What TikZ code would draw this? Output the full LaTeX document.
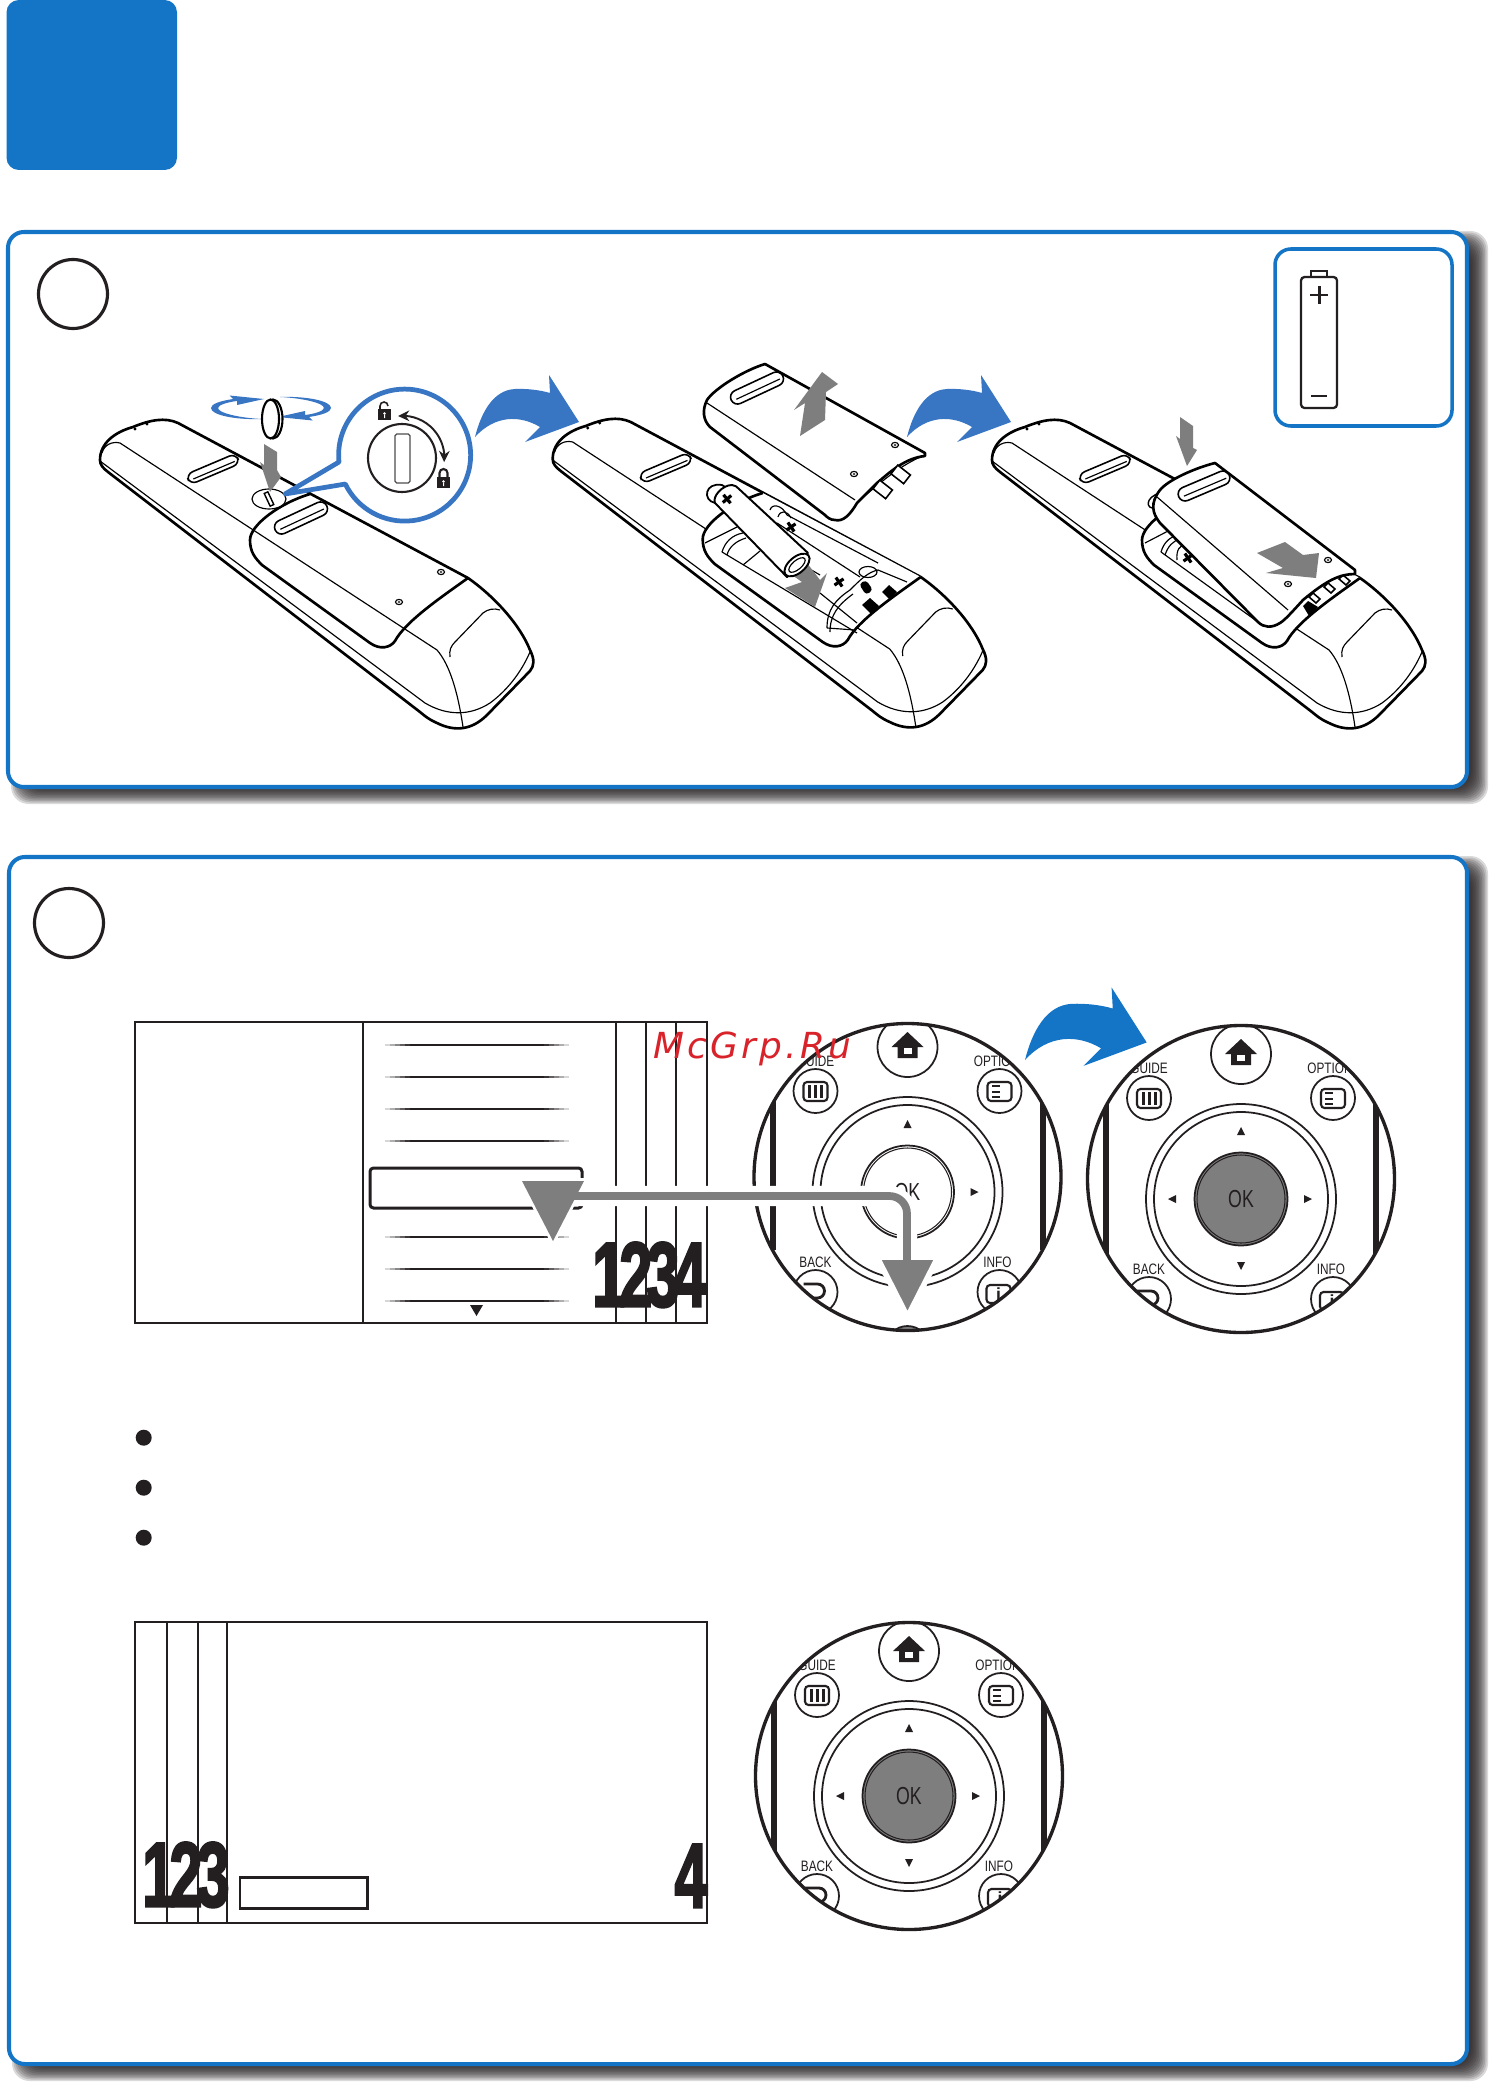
\documentclass[tikz,border=0pt]{standalone}
\usepackage{fontspec}
\usetikzlibrary{arrows.meta, bending}
\setmainfont{Liberation Sans}
\newfontfamily\digitfont[LetterSpace=-10, BoldFeatures={FakeBold=3}]{Liberation Sans}
\newfontfamily\markfont[LetterSpace=9]{DejaVu Sans}
\definecolor{panelblue}{HTML}{1475C6}
\definecolor{arrowblue}{HTML}{3876C4}
\definecolor{arrowgray}{HTML}{7F7E7E}
\definecolor{ink}{HTML}{231F20}
\definecolor{markred}{HTML}{D9232A}
\tikzset{
	outline/.style={draw=black, line width=0.75pt, line join=round},
	thinline/.style={draw=black, line width=0.33pt},
	keyline/.style={draw=ink, line width=0.5pt},
	panelline/.style={draw=panelblue, line width=1.15pt, rounded corners=4.5pt},
	screenline/.style={draw=ink, line width=0.7pt},
	keylabel/.style={text=ink, inner sep=0pt, xscale=0.78, font=\fontsize{4.3}{5}\selectfont},
	numlabel/.style={text=ink, inner sep=0pt, xscale=0.65, font=\digitfont\bfseries\fontsize{26}{26}\selectfont},
	navhead/.style={draw=white, fill=arrowgray, line width=1.6pt, line join=round},
}
\newcommand\panelframe[4]{
	\foreach \g in {9,7.5,...,-7.5}
		\fill[ink, opacity=0.16, rounded corners=5pt] ({#1+12-\g},{#2+8-\g}) rectangle ({#3+12+\g},{#4+8+\g});
	\draw[panelline, fill=white] (#1,#2) rectangle (#3,#4);
}
\newcommand\gripslot[5]{
	\begin{scope}[shift={(#1,#2)}, rotate=#3]
		\draw[line width=0.45pt, rounded corners=2pt] ({-#4/2},{-#5/2}) rectangle ({#4/2},{#5/2});
		\draw[thinline] ({-#4/2+5},{1.5}) -- ({#4/2-4},{1.5});
	\end{scope}
}
\newcommand\screwdot[2]{
	\draw[thinline] (#1,#2) ellipse [x radius=3.5, y radius=2.6];
	\fill[black] (#1,#2) ellipse [x radius=1.4, y radius=0.9];
}
\newcommand\battplus[3]{
	\begin{scope}[shift={(#1,#2)}, rotate=#3]
		\draw[line width=0.9pt] (-5.5,0) -- (5.5,0) (0,-5.5) -- (0,5.5);
	\end{scope}
}
\newcommand\coveredge[1]{
	\path[#1] (310,494) .. controls (280,503) and (250,525) .. (250,540) .. controls (250,552) and (255,558) .. (262,565) -- (370,643) .. controls (380,650) and (390,648) .. (395,641) .. controls (405,622) and (440,598) .. (468,578);
}
\newcommand\remotebase{
	\draw[outline, fill=white] (100,460) .. controls (100,443) and (115,432) .. (133,427) .. controls (150,420) and (165,417) .. (178,423) -- (468,578) .. controls (495,597) and (520,625) .. (530,650) .. controls (535,660) and (534,666) .. (530,671) -- (487,715) .. controls (472,730) and (455,732) .. (437,723) .. controls (428,719) and (425,716) .. (420,712) -- (108,472) .. controls (103,468) and (100,465) .. (100,460) -- cycle;
	\draw[thinline] (102,453) .. controls (104,445) and (112,441) .. (120,443) -- (437,650) .. controls (450,665) and (458,693) .. (463,727);
	\draw[thinline] (100,461) -- (425,703) .. controls (447,716) and (470,716) .. (490,703) .. controls (505,692) and (520,675) .. (530,652);
	\draw[thinline] (450,657) .. controls (449,650) and (451,646) .. (455,642) -- (483,613) .. controls (488,609) and (494,608) .. (500,610);
	\fill[black] (135,429) circle [radius=1.6] (147,424) circle [radius=1.6];
	\gripslot{213}{469}{23}{54}{11}
}
\newcommand\bigarrow[4]{
	\begin{scope}[shift={(#1,#2)}, scale=#3]
		\fill[#4] (0,0) .. controls (6,-24) and (18,-47) .. (40,-48) .. controls (52,-48.5) and (65,-47) .. (75,-44) -- (74,-62) -- (104,-15) -- (50,5) -- (65,-10) .. controls (45,-22) and (20,-22) .. (0,0) -- cycle;
	\end{scope}
}
\newcommand\keypad[5]{
	\begin{scope}[shift={(#1,#2)}]
		\begin{scope}
			\clip (0,0) circle [radius=153.5];
			\begin{scope}[shift={(0,#3)}]
				\draw[keyline] (0,-125) circle [radius=30];
				\fill[ink] (-16,-125) -- (0,-140) -- (16,-125) -- (10,-125) -- (10,-114) -- (-10,-114) -- (-10,-125) -- cycle;
				\fill[white] (-4,-124) rectangle (4,-118);
				\draw[ink, line width=1.7pt] (-135,-78) -- (-135,78) (135,-78) -- (135,78);
				\draw[keyline] (-92,-81) circle [radius=22] (92,-81) circle [radius=22];
				\draw[keyline] (-92,120) circle [radius=22] (92,120) circle [radius=22];
				\draw[keyline, line width=0.6pt, rounded corners=1pt] (-104,-90) rectangle (-80,-71);
				\foreach \bx in {-98,-92,-86}
					\fill[ink] (\bx-1.5,-87) rectangle (\bx+1.5,-74);
				\draw[keyline, line width=0.6pt, rounded corners=1pt] (80,-90) rectangle (104,-71);
				\foreach \by in {-86,-80.5,-75}
					\fill[ink] (84,\by-1) rectangle (92,\by+1);
				\draw[keyline, line width=0.6pt, rounded corners=1pt] (79,113) rectangle (103,131);
				\draw[keyline, line width=0.8pt] (-104,112) -- (-90,112) arc [start angle=-90, end angle=90, radius=7] -- (-98,126);
				\node[keylabel] (#5guide) at (-92,-111) {GUIDE};
				\node[keylabel] (#5option) at (89,-111) {OPTION};
				\node[keylabel] (#5back) at (-92,90) {BACK};
				\node[keylabel] (#5info) at (90,90) {INFO};
				\node[text=ink, inner sep=0pt, font=\bfseries\fontsize{5}{5}\selectfont] (#5i) at (91,122) {i};
				\draw[keyline] (0,20) circle [radius=95] (0,20) circle [radius=87];
				\draw[keyline, fill=#4] (0,20) circle [radius=46.5];
				\draw[keyline, line width=0.3pt] (0,20) circle [radius=44];
				\node[text=ink, inner sep=0pt, xscale=0.72, font=\fontsize{7}{7}\selectfont] (#5ok) at (0,20) {OK};
				\fill[ink] (-4,-44) -- (0,-52) -- (4,-44) -- cycle;
				\fill[ink] (-4,83) -- (0,91) -- (4,83) -- cycle;
				\fill[ink] (-65,16) -- (-73,20) -- (-65,24) -- cycle;
				\fill[ink] (63,16) -- (71,20) -- (63,24) -- cycle;
				\draw[keyline, fill=arrowgray] (0,176) circle [radius=22];
			\end{scope}
		\end{scope}
		\draw[ink, line width=0.95pt] (0,0) circle [radius=153.5];
	\end{scope}
}
\begin{document}
\begin{tikzpicture}[x=0.01cm, y=-0.01cm]
	\useasboundingbox (0,0) rectangle (1490,2088);
	\fill[white] (0,0) rectangle (1490,2088);

	\fill[panelblue, rounded corners=3.5pt] (6.5,0) rectangle (177,170);

	\panelframe{8}{232}{1467}{787}
	\panelframe{9}{857}{1467}{2064}
	\draw[ink, line width=0.9pt] (73,294) circle [radius=34.5];
	\draw[ink, line width=0.9pt] (69,923) circle [radius=34.5];

	% battery box
	\draw[panelline, line width=1pt] (1275,249) rectangle (1452,426);
	\draw[ink, line width=0.65pt, rounded corners=1pt] (1301,277) rectangle (1337,408);
	\draw[ink, line width=0.65pt] (1311,277) -- (1311,271) -- (1327,271) -- (1327,277);
	\draw[ink, line width=0.85pt] (1310,295) -- (1328,295) (1319,286) -- (1319,304) (1311,396) -- (1327,396);

	% first remote
	\remotebase
	\coveredge{outline}
	\gripslot{301}{518}{25}{57}{14}
	\screwdot{441}{572}
	\screwdot{399}{602}
	\draw[thinline, fill=white] (269,499) ellipse [x radius=17, y radius=10];
	\begin{scope}[shift={(269,499)}, rotate=25]
		\draw[line width=0.4pt] (-2,-7) rectangle (2,7);
	\end{scope}
	\fill[arrowgray] (264,444) -- (277,452) -- (277,470) -- (281,477) -- (270,492) -- (260,462) -- (264,465) -- cycle;

	% coin with spin arrows
	\fill[arrowblue] (264,399) -- (229.5,395.5) -- (233,399) .. controls (220,401) and (211,404) .. (211,408) .. controls (211,415) and (235,420) .. (262,419) .. controls (240,418) and (218,413) .. (218,408) .. controls (218,405) and (228,402) .. (237,401) -- (237,405) -- cycle;
	\begin{scope}[rotate around={180:(271,408)}]
		\fill[arrowblue] (264,399) -- (229.5,395.5) -- (233,399) .. controls (220,401) and (211,404) .. (211,408) .. controls (211,415) and (235,420) .. (262,419) .. controls (240,418) and (218,413) .. (218,408) .. controls (218,405) and (228,402) .. (237,401) -- (237,405) -- cycle;
	\end{scope}
	\draw[line width=0.6pt, fill=white] (273,419) ellipse [x radius=9.5, y radius=19.5];
	\draw[line width=0.6pt, fill=white] (270.5,419) ellipse [x radius=8.5, y radius=19.5];

	% magnifier
	\draw[draw=arrowblue, line width=1.35pt, fill=white, line join=round] (285,494) -- (339,462) arc [start angle=174, end angle=514, radius=66] -- cycle;
	\draw[ink, line width=0.6pt] (402,458) circle [radius=34];
	\draw[ink!80, line width=0.35pt, rounded corners=0.5pt] (395,434) rectangle (410,483);
	\draw[{Stealth[length=3.2pt, width=3pt]}-{Stealth[length=3.2pt, width=3pt]}, ink, line width=0.55pt] (398,416) arc [start angle=-96, end angle=6, radius=42];
	\fill[ink] (378,409) rectangle (391,420);
	\draw[ink, line width=0.45pt] (380,409) -- (380,406) arc [start angle=180, end angle=360, radius=4];
	\fill[white] (384.5,413.5) circle [radius=1.3] (384,414) rectangle (385,418);
	\fill[ink] (437,477) rectangle (450,488);
	\draw[ink, line width=0.6pt] (439.5,477) -- (439.5,473) arc [start angle=180, end angle=360, radius=4] -- (447.5,477);
	\fill[white] (443.5,481.5) circle [radius=1.3] (443,482) rectangle (444,486);

	\bigarrow{475}{437}{1}{arrowblue}

	% second remote, battery bay open
	\begin{scope}[shift={(452.7,-1)}]
		\remotebase
		\coveredge{outline, fill=white}
	\end{scope}
	\draw[thinline] (705,543) -- (737,527);
	\draw[thinline] (722,552) .. controls (725,542) and (732,535) .. (743,533);
	\draw[thinline] (727,555) .. controls (729,547) and (736,541) .. (746,538);
	\draw[thinline] (722,552) -- (857,633);
	\draw[thinline] (743,565) -- (760,551);
	\draw[thinline] (745,531) -- (820,575);
	\draw[thinline] (787,515) -- (878,563);
	\draw[thinline] (777,523) -- (860,577);
	\draw[thinline] (770,510) .. controls (772,503) and (782,505) .. (787,515);
	\draw[thinline] (778,517) .. controls (780,510) and (787,510) .. (791,518);
	\battplus{791}{527}{-55}
	\battplus{839}{582}{-55}
	\draw[thinline] (868,572) ellipse [x radius=9, y radius=5.5];
	\draw[thinline] (827,628) .. controls (827,610) and (835,600) .. (850,590) .. controls (860,580) and (868,572) .. (878,570) -- (907,582);
	\draw[thinline] (830,632) .. controls (830,615) and (838,605) .. (853,594);
	\draw[thinline] (820,593) -- (857,623);
	\draw[thinline] (855,630) -- (827,628);
	\fill[black, rounded corners=1pt] (859,584) -- (866,580) -- (873,590) -- (866,595) -- cycle;
	\fill[black] (882,592) -- (889,585) -- (897,592) -- (890,600) -- cycle;
	\fill[black] (862,605) -- (870,598) -- (879,606) -- (871,614) -- cycle;
	\draw[line width=0.5pt, fill=white] (715,503) .. controls (702,500) and (705,482) .. (722,485) -- (730,490) -- cycle;
	\fill[arrowgray] (807,563) -- (820,580) -- (827,573) -- (815,607) -- (785,588) -- (802,582) -- (792,575) -- cycle;
	\draw[line width=0.55pt, fill=white, line join=round] (715,503) .. controls (712,497) and (722,485) .. (732,485) .. controls (735,485) and (737,487) .. (739,489) -- (808,553) -- (787,577) -- cycle;
	\battplus{727}{499}{-50}
	\begin{scope}[shift={(797,565)}, rotate=40]
		\draw[line width=0.55pt, fill=white] (0,0) ellipse [x radius=15, y radius=8];
		\draw[thinline] (0,0) ellipse [x radius=10, y radius=4.5];
	\end{scope}

	% lifted cover
	\draw[outline, fill=white] (765,364) -- (925,453) -- (925,456) .. controls (905,458) and (890,472) .. (877,483) .. controls (865,495) and (860,500) .. (857,503) .. controls (850,515) and (843,522) .. (835,520) .. controls (830,520) and (827,517) .. (825,515) -- (710,427) .. controls (703,420) and (702,410) .. (707,400) .. controls (715,388) and (745,370) .. (765,364) -- cycle;
	\draw[thinline] (707,403) -- (855,500);
	\draw[thinline] (861,499) .. controls (880,483) and (900,465) .. (925,455);
	\gripslot{757}{388}{25}{57}{14}
	\screwdot{895}{445}
	\screwdot{854}{474}
	\begin{scope}[shift={(883,489)}, rotate=-38]
		\draw[line width=0.45pt, fill=white] (-8,-5) rectangle (8,6);
	\end{scope}
	\begin{scope}[shift={(901,474)}, rotate=-38]
		\draw[line width=0.45pt, fill=white] (-8,-5) rectangle (8,6);
	\end{scope}
	\fill[arrowgray] (822,372) -- (838,384) -- (826,392) -- (825,420) -- (800,436) -- (805,403) -- (794,410) -- cycle;

	\bigarrow{907}{437}{1}{arrowblue}

	% third remote, cover going back on
	\begin{scope}[shift={(892,0)}]
		\remotebase
		\coveredge{outline, fill=white}
	\end{scope}
	\draw[thinline] (1145,543) -- (1170,530);
	\draw[line width=0.4pt, fill=white] (1160,493) .. controls (1145,497) and (1145,510) .. (1156,508) -- cycle;
	\draw[thinline] (1161,552) -- (1258,622);
	\draw[thinline] (1161,552) .. controls (1164,542) and (1170,537) .. (1178,535);
	\draw[thinline] (1165,555) .. controls (1168,546) and (1173,541) .. (1180,539);
	\draw[thinline] (1177,560) .. controls (1176,550) and (1180,545) .. (1185,545);
	\battplus{1188}{558}{-55}
	\foreach \ax/\ay in {1309/597,1324/587,1339/579}
		\draw[line width=0.45pt, fill=white] (\ax,\ay) -- (\ax+4,\ay-4) -- (\ax+11,\ay+2) -- (\ax+7,\ay+6) -- cycle;
	\fill[black] (1303,606) -- (1308,601) -- (1318,607) -- (1309,616) -- cycle;

	\draw[outline, fill=white] (1215,463) -- (1355,570) -- (1355,574) .. controls (1340,574) and (1327,580) .. (1303,600) .. controls (1292,612) and (1285,620) .. (1280,623) .. controls (1272,628) and (1264,628) .. (1258,622) -- (1160,523) .. controls (1152,513) and (1150,503) .. (1160,490) .. controls (1168,480) and (1195,468) .. (1215,463) -- cycle;
	\draw[thinline] (1157,497) -- (1288,610);
	\gripslot{1204}{486}{23}{55}{14}
	\screwdot{1328}{560}
	\screwdot{1288}{584}
	\fill[arrowgray] (1180,417) -- (1193,426) -- (1193,448) -- (1197,450) -- (1187,466) -- (1176,436) -- (1180,439) -- cycle;
	\fill[arrowgray] (1257,553) -- (1285,542) -- (1303,555) -- (1319,553) -- (1316,578) -- (1266,573) -- (1283,568) -- cycle;

	% first screen
	\draw[screenline] (135,1022) rectangle (707,1323);
	\foreach \lx in {363,616,646,676}
		\draw[ink, line width=0.4pt] (\lx,1022) -- (\lx,1323);
	\foreach \ly in {1045,1077,1109,1141,1237,1269,1301} {
		\draw[ink, line width=0.5pt] (410,\ly) -- (545,\ly);
		\foreach \k in {1,...,5} {
			\pgfmathtruncatemacro\tint{18*\k}
			\draw[ink!\tint, line width=0.5pt] ({380+5*\k},\ly) -- ({385+5*\k},\ly);
			\draw[ink!\tint, line width=0.5pt] ({574-5*\k},\ly) -- ({569-5*\k},\ly);
		}
	}
	\draw[ink, line width=0.85pt, rounded corners=1pt, fill=white] (370,1168) rectangle (582,1208);
	\fill[ink] (470,1305) -- (483,1305) -- (476.5,1316) -- cycle;
	\node[numlabel, anchor=south east] (numA) at (707,1308) {1234};

	% keypads
	\keypad{907.5}{1177}{-5}{white}{padA}
	\keypad{1241}{1179}{0}{arrowgray}{padB}
	\keypad{909}{1776}{0}{arrowgray}{padC}

	\bigarrow{1025}{1060}{1.17}{panelblue}

	% move from the list to the keypad
	\coordinate (navfrom) at (553,1196);
	\coordinate (navto) at (907,1262);
	\draw[white, line width=5.7pt, rounded corners=5pt] (navfrom) -| (navto);
	\draw[navhead] (522,1181) -- (584,1181) -- (553,1241) -- cycle;
	\draw[navhead] (877,1257) -- (938,1257) -- (907.5,1317) -- cycle;
	\draw[arrowgray, line width=2.2pt, rounded corners=5pt] (navfrom) -| (navto);
	\fill[arrowgray] (522,1181) -- (584,1181) -- (553,1241) -- cycle;

	% bullets
	\foreach \by in {1437.7,1487.7,1537.7}
		\fill[ink] (143.7,\by) circle [radius=8];

	% second screen
	\draw[screenline] (135,1622) rectangle (707,1923);
	\foreach \lx in {167,198,227}
		\draw[ink, line width=0.4pt] (\lx,1622) -- (\lx,1923);
	\draw[ink, line width=0.85pt] (240,1877) rectangle (367,1908);
	\node[numlabel, anchor=south east] (numB) at (230,1908) {123};
	\node[numlabel, anchor=south east] (numC) at (708,1908) {4};

	% watermark
	\node[text=markred, inner sep=0pt, anchor=base west, font=\markfont\itshape\fontsize{10.2}{11}\selectfont] (watermark) at (653,1058) {McGrp.Ru};

	%\draw[help lines, step=100] (0,0) grid (1490,2088);
\end{tikzpicture}
\end{document}
